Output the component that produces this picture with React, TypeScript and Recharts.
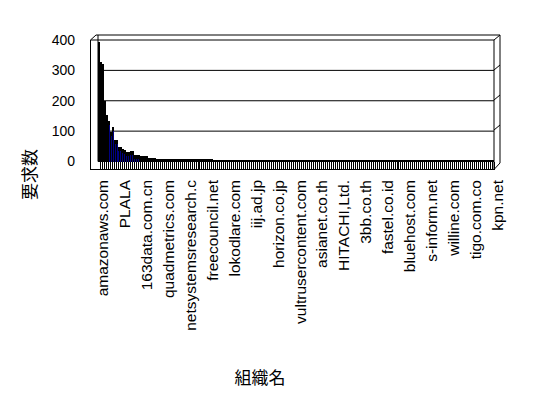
import React from 'react';
import { BarChart, Bar, XAxis, YAxis, CartesianGrid, Customized } from 'recharts';

// Visible organisation labels (every 11th category)
const orgLabels = [
  'amazonaws.com', 'PLALA', '163data.com.cn', 'quadmetrics.com', 'netsystemsresearch.c',
  'freecouncil.net', 'lokodlare.com', 'iij.ad.jp', 'horizon.co.jp', 'vultrusercontent.com',
  'asianet.co.th', 'HITACHI,Ltd.', '3bb.co.th', 'fastel.co.id', 'bluehost.com',
  's-inform.net', 'willine.com', 'tigo.com.co', 'kpn.net',
];
const labelStep = 11;

// Request counts per organisation (199 organisations)
const counts = [
  395, 328, 322, 200, 153, 133, 98, 114, 72, 72, 48, 48, 42, 37, 31, 31, 34, 34, 23, 23,
  23, 17, 17, 17, 17, 12, 10, 10, 10, 9, 9, 9, 9, 9, 9, 9, 9, 7, 7, 7,
  7, 7, 7, 7, 7, 7, 7, 7, 7, 7, 7, 7, 7, 7, 7, 7, 7, 7, 4, 4,
  4, 4, 4, 4, 4, 4, 4, 4, 4, 4, 4, 4, 4, 4, 4, 4, 4, 4, 4, 4,
  4, 4, 4, 4, 4, 4, 4, 4, 4, 4, 4, 4, 4, 4, 4, 4, 4, 4, 4, 4,
  4, 4, 4, 4, 4, 4, 4, 4, 4, 4, 4, 4, 4, 4, 4, 4, 4, 4, 4, 4,
  4, 4, 4, 4, 4, 4, 4, 4, 4, 4, 4, 4, 4, 4, 4, 4, 4, 4, 4, 4,
  4, 4, 4, 4, 4, 4, 4, 4, 4, 4, 4, 4, 4, 4, 4, 4, 4, 4, 4, 4,
  4, 4, 4, 4, 4, 4, 4, 4, 4, 4, 4, 4, 4, 4, 4, 4, 4, 4, 4, 4,
  4, 4, 4, 4, 4, 4, 4, 4, 4, 4, 4, 4, 4, 4, 4, 4, 4, 4, 4,
];

const yTicks = [0, 100, 200, 300, 400];
const yTitle = '要求数';
const xTitle = '組織名';

const data = counts.map((v, i) => ({
  name: i % labelStep === 0 ? orgLabels[i / labelStep] ?? '' : '',
  value: v,
}));

const FONT = '"Liberation Sans", Arial, sans-serif';
const JP = '"Noto Sans CJK JP", sans-serif';

const W = 548;
const H = 398;
const L = 98;
const R = 494;
const T = 40;
const B = 161.5;

const BarShape = (props: any) => {
  const { x, y, width, height, value } = props;
  const base = y + height;
  const v = Array.isArray(value) ? value[1] : value;
  return (
    <g shapeRendering="crispEdges">
      <rect x={x} y={y} width={width} height={Math.max(height, 0)} fill="#000" />
      {v < 150 && height > 6 ? (
        <rect x={x + 0.6} y={y + 4} width={1} height={height - 4} fill="#000080" />
      ) : null}
      <rect x={x + 2} y={base} width={1} height={8} fill="#000" />
    </g>
  );
};

const XTick = (props: any) => {
  const { x, y, payload } = props;
  if (!payload || !payload.value) return null;
  return (
    <text
      transform={`translate(${x + 4},${y + 18.5}) rotate(-90)`}
      textAnchor="end"
      dominantBaseline="central"
      fontSize={15.5}
      fontFamily={FONT}
      fill="#000"
    >
      {payload.value}
    </text>
  );
};

const Frame = () => {
  const grid = [40, 70, 100, 130];
  return (
    <g stroke="#000" strokeWidth={1} fill="none">
      <polyline points={`90.5,170 90.5,40 96,35 500,35 500,163 494,169.5 90.5,169.5`} />
      <line x1={90.5} y1={40} x2={98} y2={40} />
      <line x1={98} y1={35} x2={98} y2={B} />
      <line x1={R} y1={40} x2={R} y2={169.5} />
      {grid.map((g) => (
        <line key={g} x1={R} y1={g} x2={500} y2={g - 5} />
      ))}
      <text
        transform={`translate(28,174.5) rotate(-90)`}
        textAnchor="middle"
        dominantBaseline="central"
        fontSize={17}
        fontFamily={JP}
        fill="#000"
        stroke="none"
      >
        {yTitle}
      </text>
      <text
        x={260}
        y={376.5}
        textAnchor="middle"
        dominantBaseline="central"
        fontSize={17}
        fontFamily={JP}
        fill="#000"
        stroke="none"
      >
        {xTitle}
      </text>
    </g>
  );
};

export default function App() {
  return (
    <div style={{ position: 'absolute', left: 0, top: 0, width: W, height: H, background: '#fff' }}>
      <BarChart
        width={W}
        height={H}
        data={data}
        margin={{ top: T, right: W - R, bottom: 0, left: 0 }}
        barCategoryGap={0}
        barGap={0}
      >
        <CartesianGrid horizontal vertical={false} stroke="#000" strokeWidth={1} />
        <XAxis
          dataKey="name"
          interval={labelStep - 1}
          height={H - B}
          axisLine={false}
          tickLine={false}
          tickSize={0}
          tickMargin={0}
          tick={<XTick />}
        />
        <YAxis
          width={L}
          domain={[0, 400]}
          ticks={yTicks}
          axisLine={false}
          tickLine={false}
          tickSize={0}
          tickMargin={23}
          tick={{ fontSize: 14, fill: '#000', fontFamily: FONT }}
        />
        <Bar dataKey="value" isAnimationActive={false} shape={<BarShape />} />
        <Customized component={<Frame />} />
      </BarChart>
    </div>
  );
}
